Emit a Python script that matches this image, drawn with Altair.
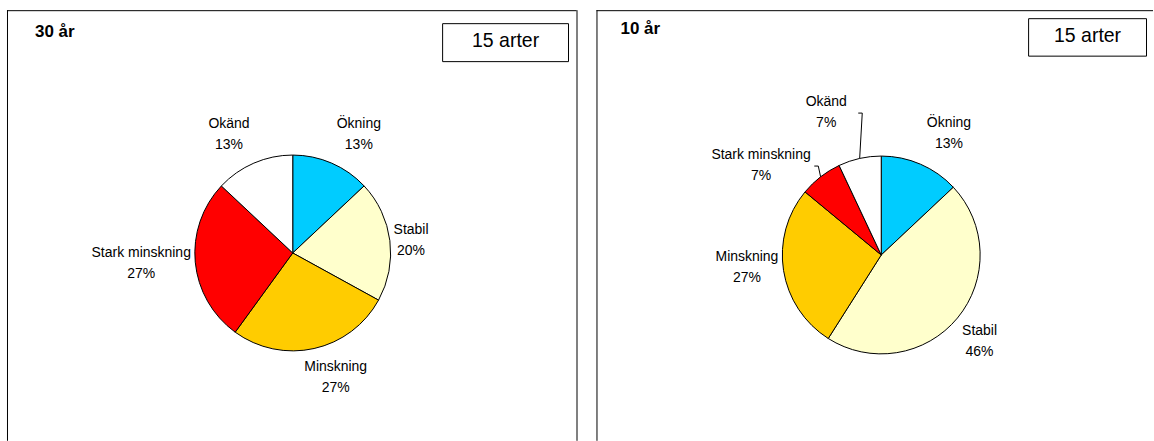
import math

import altair as alt
import pandas as pd

# Trend categories, in clockwise order from twelve o'clock
categories = ["Ökning", "Stabil", "Minskning", "Stark minskning", "Okänd"]
colors = ["#00CCFF", "#FFFFCC", "#FFCC00", "#FF0000", "#FFFFFF"]

# Share of species (%) per trend category
share_30 = [13, 20, 27, 27, 13]
share_10 = [13, 46, 27, 7, 7]

panel_titles = ["30 år", "10 år"]
species_note = "15 arter"

FONT = "Liberation Sans"
PANEL_H = 432
LINE_H = 21

# Panel layout: pie centre/radius, label placement tweaks (degrees, px beyond rim),
# header box and optional leader-line elbows (px relative to the pie centre)
layout_30 = {
    "width": 571, "cx": 286, "cy": 243, "R": 98,
    "nudge": {"Ökning": 5.7, "Stabil": 1.4, "Minskning": -6.4, "Stark minskning": 1.6, "Okänd": -4.8},
    "gap": {"Ökning": 38, "Stabil": 21, "Minskning": 34, "Stark minskning": 54, "Okänd": 37},
    "title": (28, 27), "box": (436, 13.5, 562, 51.5), "note": (499, 36.5),
    "leaders": {}, "right_border": True,
}
layout_10 = {
    "width": 558, "cx": 285, "cy": 245, "R": 99,
    "nudge": {"Ökning": 5.8, "Stabil": 1.7, "Minskning": 3.7, "Stark minskning": -15.5, "Okänd": -8.5},
    "gap": {"Ökning": 40, "Stabil": 32, "Minskning": 36, "Stark minskning": 51, "Okänd": 54},
    "title": (24, 24), "box": (432.5, 8.5, 550.5, 46), "note": (491.5, 31.5),
    "leaders": {"Okänd": [(-23, -142), (-19, -142)], "Stark minskning": [(-67, -89), (-63, -89)]},
    "right_border": False,
}


def panel(title, shares, lay):
    total = sum(shares)
    cx, cy, R, w = lay["cx"], lay["cy"], lay["R"], lay["width"]

    df = pd.DataFrame({"cat": categories, "share": shares, "idx": list(range(len(categories)))})
    mid = df["share"].cumsum() - df["share"] / 2
    df["lab_theta"] = mid + df["cat"].map(lay["nudge"]) / 360 * total
    df["lab_r"] = R + df["cat"].map(lay["gap"])
    df["label"] = df["cat"] + "\n" + df["share"].astype(str) + "%"

    theta_scale = alt.Scale(domain=[0, total])

    pie = alt.Chart(df).mark_arc(outerRadius=R, stroke="black", strokeWidth=1).encode(
        theta=alt.Theta("share:Q", stack=True, scale=theta_scale),
        color=alt.Color("cat:N", scale=alt.Scale(domain=categories, range=colors), legend=None),
        order=alt.Order("idx:Q"),
        x=alt.value(cx),
        y=alt.value(cy),
    )

    # Two-line labels, shifted up half a line so the block is centred on its anchor
    labels = alt.Chart(df).mark_text(
        font=FONT, fontSize=14, lineHeight=LINE_H, lineBreak="\n",
        align="center", baseline="middle", color="black", dy=-LINE_H / 2,
    ).encode(
        theta=alt.Theta("lab_theta:Q", stack=None, scale=theta_scale),
        radius=alt.Radius("lab_r:Q", scale=None),
        text="label:N",
        x=alt.value(cx),
        y=alt.value(cy),
    )

    one = pd.DataFrame({"t": [species_note], "title": [title]})
    heading = alt.Chart(one).mark_text(
        font=FONT, fontSize=17, fontWeight="bold", align="left", baseline="alphabetic", color="black",
    ).encode(text="title:N", x=alt.value(lay["title"][0]), y=alt.value(lay["title"][1]))

    bx0, by0, bx1, by1 = lay["box"]
    box = alt.Chart(one).mark_rect(fill="white", stroke="black", strokeWidth=1).encode(
        x=alt.value(bx0), x2=alt.value(bx1), y=alt.value(by0), y2=alt.value(by1)
    )
    note = alt.Chart(one).mark_text(
        font=FONT, fontSize=19.5, align="center", baseline="alphabetic", color="black",
    ).encode(text="t:N", x=alt.value(lay["note"][0]), y=alt.value(lay["note"][1]))

    # Panel frame: left, top and (optionally) right edges
    frame = [
        alt.Chart(one).mark_rule(color="black", strokeWidth=1).encode(
            x=alt.value(0.5), y=alt.value(0), y2=alt.value(PANEL_H - 1)),
        alt.Chart(one).mark_rule(color="black", strokeWidth=1).encode(
            x=alt.value(0), x2=alt.value(w - 1), y=alt.value(0.5)),
    ]
    if lay["right_border"]:
        frame.append(alt.Chart(one).mark_rule(color="black", strokeWidth=1).encode(
            x=alt.value(w - 0.5), y=alt.value(0), y2=alt.value(PANEL_H - 1)))

    layers = frame + [pie, labels, heading, box, note]

    if lay["leaders"]:
        rows = []
        for cat, elbows in lay["leaders"].items():
            i = categories.index(cat)
            ang = math.radians(mid.iloc[i] / total * 360)
            rim = (cx + R * math.sin(ang), cy - R * math.cos(ang))
            pts = [(cx + dx, cy + dy) for dx, dy in elbows] + [rim]
            for k, (px, py) in enumerate(pts):
                rows.append({"cat": cat, "k": k, "px": px, "py": py})
        lead = alt.Chart(pd.DataFrame(rows)).mark_line(color="black", strokeWidth=1).encode(
            x=alt.X("px:Q", scale=None, axis=None),
            y=alt.Y("py:Q", scale=None, axis=None),
            detail="cat:N",
            order=alt.Order("k:Q"),
        )
        layers.append(lead)

    return alt.layer(*layers).properties(width=w, height=PANEL_H)


chart = alt.hconcat(
    panel(panel_titles[0], share_30, layout_30),
    panel(panel_titles[1], share_10, layout_10),
    spacing=18,
).properties(
    padding={"left": 6, "top": 9, "right": 0, "bottom": 0},
    background="white",
).configure_view(stroke=None)

chart.save("out.html", embed_options={"renderer": "svg", "actions": False})
